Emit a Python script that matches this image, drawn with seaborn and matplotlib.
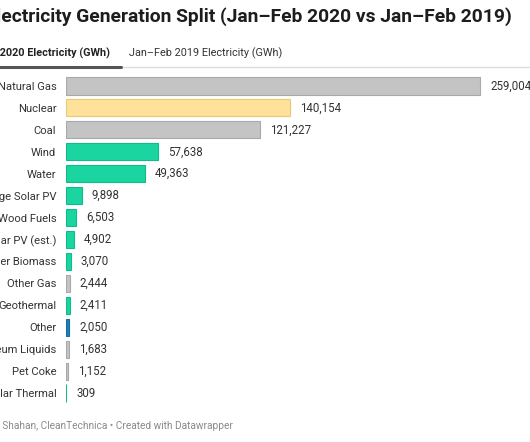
import numpy as np
import pandas as pd
import seaborn as sns
import matplotlib.pyplot as plt

# data
sumber = ['Natural Gas', 'Nuclear', 'Coal', 'Wind', 'Water', 'Large Solar PV',
          'Wood Fuels', 'Small Solar PV (est.)', 'Other Biomass', 'Other Gas',
          'Geothermal', 'Other', 'Petroleum Liquids', 'Pet Coke', 'Solar Thermal']
gwh_2020 = [259004, 140154, 121227, 57638, 49363, 9898, 6503, 4902, 3070, 2444,
            2411, 2050, 1683, 1152, 309]
jenis = ['fossil', 'nuclear', 'fossil', 'renew', 'renew', 'renew', 'renew', 'renew',
         'renew', 'fossil', 'renew', 'other', 'fossil', 'fossil', 'renew']

warna = {'fossil': '#c4c4c4', 'nuclear': '#ffe29a', 'renew': '#1ad5a0', 'other': '#1f80b8'}
tepi = {'fossil': '#a9a9a9', 'nuclear': '#ebc872', 'renew': '#12bb8a', 'other': '#186d9f'}

df = pd.DataFrame({'sumber': sumber, 'gwh': gwh_2020, 'jenis': jenis})

sns.set_theme(style='white')
plt.rcParams['font.family'] = ['Roboto', 'DejaVu Sans']

fig = plt.figure(figsize=(5.3, 4.42), dpi=100)
ax = fig.add_axes([66 / 530, 1 - 404 / 442, 464 / 530, (404 - 75) / 442])

sns.barplot(data=df, x='gwh', y='sumber', hue='sumber',
            palette=[warna[j] for j in jenis], legend=False,
            width=0.78, ax=ax, saturation=1)
for p, j in zip(ax.patches, jenis):
    p.set_edgecolor(tepi[j])
    p.set_linewidth(0.8)

skala = 259004 * 464 / 414
ax.set_xlim(0, skala)
ax.set_ylim(14.5, -0.5)
for i, v in enumerate(gwh_2020):
    ax.text(v + skala * 10 / 464, i, f'{v:,}', va='center', ha='left',
            fontsize=8.3, color='#333333')

ax.set_xlabel('')
ax.set_ylabel('')
ax.set_xticks([])
ax.tick_params(axis='y', length=0, pad=7, labelsize=8.1, labelcolor='#333333')
sns.despine(ax=ax, left=True, bottom=True, top=True, right=True)

# judul, tab, footer
fig.text(512 / 530, 1 - 17 / 442,
         'US Electricity Generation Split (Jan\u2013Feb 2020 vs Jan\u2013Feb 2019)',
         ha='right', va='center', fontsize=13.9, fontweight='bold', color='#1d1d1d')
fig.text(110 / 530, 1 - 53 / 442, 'Jan\u2013Feb 2020 Electricity (GWh)',
         ha='right', va='center', fontsize=7.8, fontweight='bold', color='#222222')
fig.text(129 / 530, 1 - 53 / 442, 'Jan\u2013Feb 2019 Electricity (GWh)',
         ha='left', va='center', fontsize=7.8, color='#333333')
fig.add_artist(plt.Line2D([121 / 530, 1], [1 - 67 / 442] * 2, color='#dddddd', lw=1))
fig.add_artist(plt.Line2D([0, 121 / 530], [1 - 66.5 / 442] * 2, color='#555555', lw=2.2))
fig.text(233 / 530, 1 - 426 / 442,
         'Chart: Zachary Shahan, CleanTechnica \u2022 Created with Datawrapper',
         ha='right', va='center', fontsize=7.25, color='#8a8a8a')

fig.savefig('out.png', dpi=100)
